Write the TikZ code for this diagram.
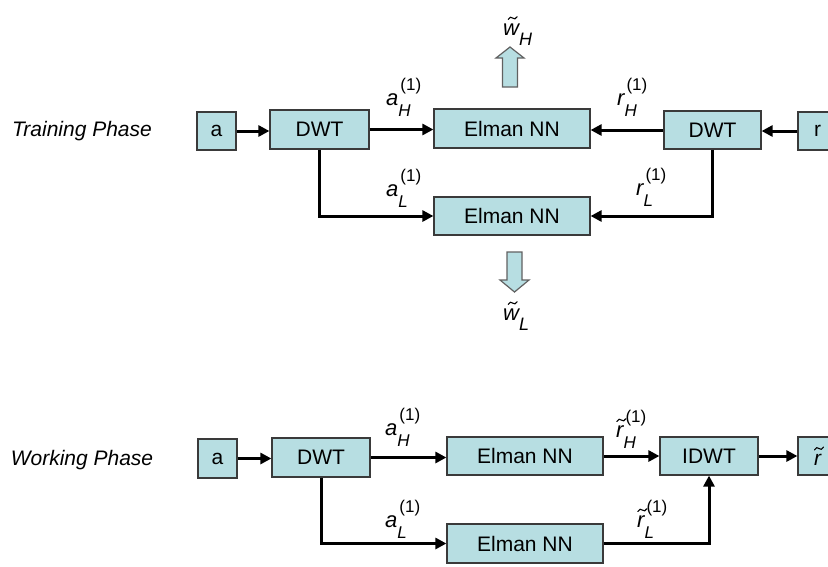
\documentclass[tikz,border=0pt]{standalone}
\usepackage{fontspec}
\setmainfont{Liberation Sans}
\usetikzlibrary{arrows.meta}
\definecolor{boxfill}{HTML}{B7DEE2}
\definecolor{boxline}{HTML}{3A3A3A}
\newcommand{\tld}[1]{\setbox0\hbox{#1}\rlap{\hbox to \wd0{\hss\kern3pt\raisebox{15pt}{\tikz[x=1pt,y=1pt]\draw[line width=1.1pt, line cap=round] (0,0) .. controls (1.5,2.6) and (3,2.8) .. (4.5,1.4) .. controls (6,0) and (7.5,0.2) .. (9,2.8);}\hss}}\box0}
\newcommand{\lab}[3]{#1\rlap{\raisebox{-11pt}{\fontsize{17}{17}\selectfont\itshape #2}}\kern2pt\raisebox{15pt}{\fontsize{17}{17}\selectfont\upshape #3}}
\newcommand{\labsub}[2]{#1\raisebox{-10pt}{\fontsize{18}{18}\selectfont\itshape #2}}
\tikzset{
  blk/.style={draw=boxline, fill=boxfill, line width=1.2pt, inner sep=0pt, font=\fontsize{21}{21}\selectfont},
  conn/.style={line width=3pt, -{Triangle[length=11pt,width=11pt]}},
  lbl/.style={inner sep=0pt, anchor=base west, font=\fontsize{22}{22}\selectfont\itshape},
  phase/.style={inner sep=0pt, font=\fontsize{21}{21}\selectfont\itshape},
  fat/.style={draw=boxline!80, fill=boxfill, line width=1.2pt, line join=miter}
}
\begin{document}
\begin{tikzpicture}[x=1pt,y=-1pt]
\useasboundingbox (0,0) rectangle (828,566);
% Training phase
\node[phase] (tp) at (82,131) {Training Phase};
\node[blk, minimum width=39pt, minimum height=38pt] (a1) at (216.5,131) {a};
\node[blk, minimum width=99pt, minimum height=39pt] (dwtA) at (319.5,129.5) {DWT};
\node[blk, minimum width=156pt, minimum height=39pt] (elA) at (512,128.5) {Elman NN};
\node[blk, minimum width=97pt, minimum height=38pt] (dwtB) at (712.5,130) {DWT};
\node[blk, minimum width=39pt, minimum height=38pt] (r1) at (817.5,131) {r};
\node[blk, minimum width=156pt, minimum height=38pt] (elB) at (512,216) {Elman NN};
\draw[conn] (a1.east) -- (a1.east -| dwtA.west);
\draw[conn] (dwtA.east) -- (dwtA.east -| elA.west);
\draw[conn] (dwtB.west) -- (dwtB.west -| elA.east);
\draw[conn] (r1.west) -- (r1.west -| dwtB.east);
\draw[conn] (dwtA.south) |- (elB.west);
\draw[conn] (dwtB.south) |- (elB.east);
\node[lbl] (laH) at (386,105) {\lab{a}{H}{(1)}};
\node[lbl] (laL) at (386,196) {\lab{a}{L}{(1)}};
\node[lbl] (lrH) at (617,105) {\lab{r}{H}{(1)}};
\node[lbl] (lrL) at (636,195) {\lab{r}{L}{(1)}};
\draw[fat] (502.5,87) -- (502.5,58) -- (496,58) -- (510,47) -- (524,58) -- (517.5,58) -- (517.5,87) -- cycle;
\draw[fat] (507,252) -- (522,252) -- (522,280) -- (529,280) -- (514.5,292) -- (500,280) -- (507,280) -- cycle;
\node[lbl] (wH) at (503,35) {\labsub{\tld{w}}{H}};
\node[lbl] (wL) at (503,320) {\labsub{\tld{w}}{L}};
% Working phase
\node[phase] (wp) at (82,460) {Working Phase};
\node[blk, minimum width=39pt, minimum height=39pt] (a2) at (217.5,458.5) {a};
\node[blk, minimum width=98pt, minimum height=39pt] (dwtC) at (321,457.5) {DWT};
\node[blk, minimum width=156pt, minimum height=38pt] (elC) at (525,456) {Elman NN};
\node[blk, minimum width=98pt, minimum height=38pt] (idwt) at (709,456) {IDWT};
\node[blk, minimum width=39pt, minimum height=38pt] (rt) at (817.5,456) {\itshape\tld{r}\hspace{10pt}};
\node[blk, minimum width=156pt, minimum height=39pt] (elD) at (525,543.5) {Elman NN};
\draw[conn] (a2.east) -- (a2.east -| dwtC.west);
\draw[conn] (dwtC.east) -- (dwtC.east -| elC.west);
\draw[conn] (elC.east) -- (elC.east -| idwt.west);
\draw[conn] (idwt.east) -- (idwt.east -| rt.west);
\draw[conn] (dwtC.south) |- (elD.west);
\draw[conn] (elD.east) -| (idwt.south);
\node[lbl] (waH) at (385,435) {\lab{a}{H}{(1)}};
\node[lbl] (waL) at (385,527) {\lab{a}{L}{(1)}};
\node[lbl] (wrH) at (616,437) {\lab{\tld{r}}{H}{(1)}};
\node[lbl] (wrL) at (637,527) {\lab{\tld{r}}{L}{(1)}};
\end{tikzpicture}
\end{document}
